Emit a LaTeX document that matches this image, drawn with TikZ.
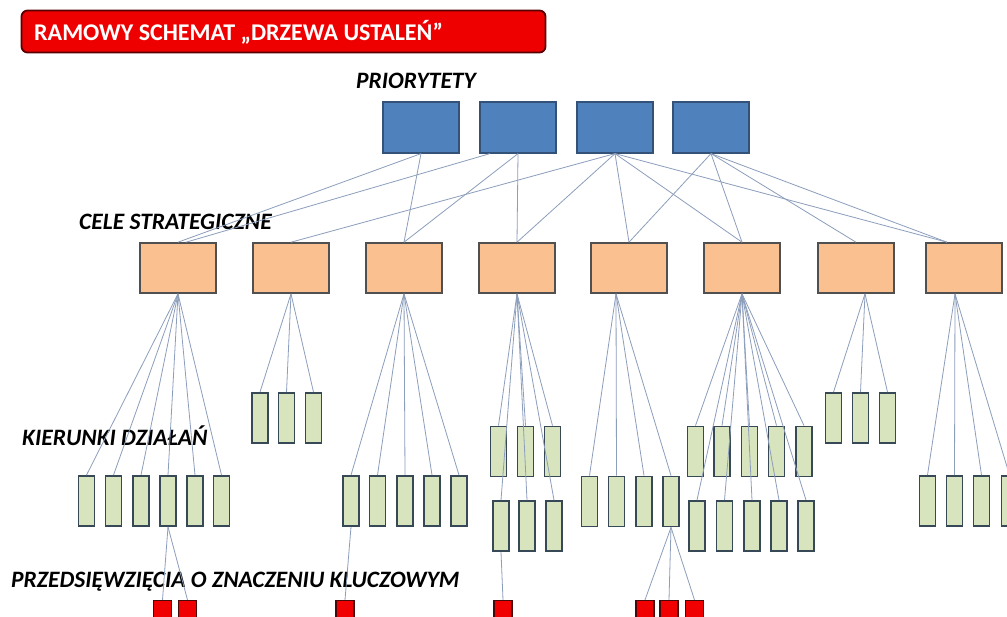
\documentclass[tikz,border=0pt]{standalone}
\usepackage{fontspec}
\setmainfont{Carlito}
\usetikzlibrary{calc}
\definecolor{linec}{RGB}{140,158,188}
\definecolor{pfill}{RGB}{79,129,189}
\definecolor{pborder}{RGB}{52,82,120}
\definecolor{cfill}{RGB}{250,192,144}
\definecolor{cborder}{RGB}{80,80,80}
\definecolor{kfill}{RGB}{215,228,189}
\definecolor{kborder}{RGB}{55,72,86}
\definecolor{rfill}{RGB}{240,0,0}
\definecolor{rborder}{RGB}{70,10,10}
\definecolor{tfill}{RGB}{238,0,0}
\definecolor{tborder}{RGB}{90,0,0}
\tikzset{
  conn/.style={draw=linec, line width=0.8pt},
  pbox/.style={draw=pborder, fill=pfill, line width=1.2pt, minimum width=76pt, minimum height=51pt, inner sep=0pt},
  cbox/.style={draw=cborder, fill=cfill, line width=1.6pt, minimum width=76pt, minimum height=50pt, inner sep=0pt},
  kbox/.style={draw=kborder, fill=kfill, line width=1.8pt, minimum width=16pt, minimum height=50pt, inner sep=0pt},
  rbox/.style={draw=rborder, fill=rfill, line width=1.2pt, minimum width=18pt, minimum height=18pt, inner sep=0pt},
  lab/.style={font=\fontsize{23.5}{27}\selectfont\bfseries\itshape, text=black, inner sep=0pt, anchor=base west},
}
\begin{document}
\begin{tikzpicture}[x=1pt,y=-1pt]
\useasboundingbox (0,0) rectangle (1007,616);
\clip (0,0) rectangle (1007,616);
\fill[white] (0,0) rectangle (1007,616);
% title
\node[draw=tborder, fill=tfill, line width=1.8pt, rounded corners=6pt, minimum width=524pt, minimum height=42pt, inner sep=0pt] (title) at (283.5,31.5) {};
\node[font=\fontsize{24}{28}\selectfont\bfseries, text=white, inner sep=0pt, anchor=base west] (titletext) at (34,40) {RAMOWY SCHEMAT „DRZEWA USTALEŃ”};
% labels
\node[lab] (lp) at (356,88) {PRIORYTETY};
\node[lab] (lc) at (79,229) {CELE STRATEGICZNE};
\node[lab] (lk) at (22,445) {KIERUNKI DZIAŁAŃ};
\node[lab] (lz) at (11,587) {PRZEDSIĘWZIĘCIA O ZNACZENIU KLUCZOWYM};
% priorities
\foreach \n/\x in {1/421,2/518,3/615,4/711}{\node[pbox] (B\n) at (\x,127.5) {};}
% strategic goals
\foreach \n/\x in {1/178,2/291,3/404,4/517,5/629,6/742,7/856,8/964}{\node[cbox] (O\n) at (\x,268) {};}
% priority -> goal links
\draw[conn] (B1.south) -- (O1.north);
\draw[conn] (B1.south) -- (O3.north);
\draw[conn] ([xshift=-28pt]B2.south) -- ([xshift=8pt]O1.north);
\draw[conn] (B2.south) -- (O3.north);
\draw[conn] (B2.south) -- (O4.north);
\draw[conn] (B3.south) -- (O2.north);
\draw[conn] (B3.south) -- (O4.north);
\draw[conn] (B3.south) -- (O5.north);
\draw[conn] (B3.south) -- (O6.north);
\draw[conn] (B3.south) -- ([xshift=-17pt]O8.north);
\draw[conn] (B4.south) -- (O5.north);
\draw[conn] (B4.south) -- (O6.north);
\draw[conn] (B4.south) -- (O7.north);
\draw[conn] (B4.south) -- ([xshift=-17pt]O8.north);
% apex points
\coordinate (A1) at (O1.south);
\coordinate (A2) at (O2.south);
\coordinate (A3) at (O3.south);
\coordinate (A4) at (O4.south);
\coordinate (A5) at ([xshift=-13pt]O5.south);
\coordinate (A6) at (O6.south);
\coordinate (A7) at ([xshift=9pt]O7.south);
\coordinate (A8) at ([xshift=-9pt]O8.south);
% action directions
\foreach \n/\x in {1/86.5,2/113.5,3/141,4/168,5/195,6/221.5}{\node[kbox] (k1\n) at (\x,501) {};}
\foreach \n/\x in {1/260,2/286.5,3/313.5}{\node[kbox] (k2\n) at (\x,418) {};}
\foreach \n/\x in {1/351,2/377.5,3/405,4/432,5/459}{\node[kbox] (k3\n) at (\x,501) {};}
\foreach \n/\x in {1/498.5,2/525.5,3/552.5}{\node[kbox] (k4a\n) at (\x,451.5) {};}
\foreach \n/\x in {1/501,2/527,3/554}{\node[kbox] (k4b\n) at (\x,526) {};}
\foreach \n/\x in {1/589.5,2/616.5,3/644,4/671}{\node[kbox] (k5\n) at (\x,501.5) {};}
\foreach \n/\x in {1/695.5,2/722,3/749.5,4/776.5,5/804}{\node[kbox] (k6a\n) at (\x,451.5) {};}
\foreach \n/\x in {1/697,2/724.5,3/752,4/779,5/806}{\node[kbox] (k6b\n) at (\x,526) {};}
\foreach \n/\x in {1/833.5,2/860.5,3/887.5}{\node[kbox] (k7\n) at (\x,418) {};}
\foreach \n/\x in {1/927.5,2/954.5,3/981.5,4/1009.5}{\node[kbox] (k8\n) at (\x,501) {};}
% goal -> direction links
\foreach \n in {1,...,6}{\draw[conn] (A1) -- (k1\n.north);}
\foreach \n in {1,2,3}{\draw[conn] (A2) -- (k2\n.north);}
\foreach \n in {1,...,5}{\draw[conn] (A3) -- (k3\n.north);}
\foreach \n in {1,2,3}{\draw[conn] (A4) -- (k4a\n.north); \draw[conn] (A4) -- (k4b\n.north);}
\foreach \n in {1,...,4}{\draw[conn] (A5) -- (k5\n.north);}
\foreach \n in {1,...,5}{\draw[conn] (A6) -- (k6a\n.north); \draw[conn] (A6) -- (k6b\n.north);}
\foreach \n in {1,2,3}{\draw[conn] (A7) -- (k7\n.north);}
\foreach \n in {1,...,4}{\draw[conn] (A8) -- (k8\n.north);}
% key undertakings
\foreach \n/\x in {1/162.5,2/187.5,3/345,4/503,5/645,6/669,7/694.5}{\node[rbox] (r\n) at (\x,609.5) {};}
\draw[conn] (k14.south) -- (r1.north);
\draw[conn] (k14.south) -- (r2.north);
\draw[conn] (k31.south) -- (r3.north);
\draw[conn] (k4b1.south) -- (r4.north);
\draw[conn] (k54.south) -- (r5.north);
\draw[conn] (k54.south) -- (r6.north);
\draw[conn] (k54.south) -- (r7.north);
\end{tikzpicture}
\end{document}
